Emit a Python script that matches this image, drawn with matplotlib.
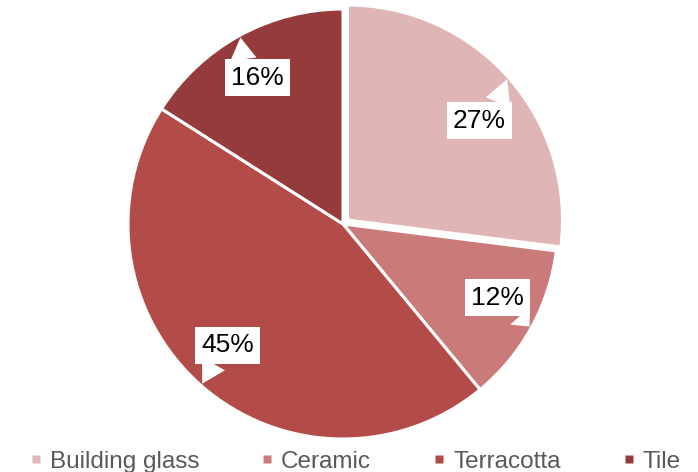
import numpy as np
import matplotlib.pyplot as plt
from matplotlib.lines import Line2D

plt.rcParams['font.family'] = ['Liberation Sans', 'DejaVu Sans']

# data
categories = ['Building glass', 'Ceramic', 'Terracotta', 'Tile']
shares = [27, 12, 45, 16]
colors = ['#DFB5B5', '#CA7B79', '#B34B48', '#963B3B']

# label layout (box centre in data units, where the tail leaves the box)
label_pos = [(0.635, 0.481), (0.719, -0.342), (-0.537, -0.565), (-0.398, 0.681)]
tail_rel = [(0.8, 1.0), (0.82, 0.0), (0.3, 0.0), (0.25, 1.0)]

fig = plt.figure(figsize=(6.98, 4.72), dpi=100)
ax = fig.add_axes([0, 0, 1, 1])

wedges, _ = ax.pie(shares, colors=colors, startangle=90, counterclock=False,
                   explode=[0.028, 0, 0, 0], radius=1.0,
                   wedgeprops=dict(edgecolor='white', linewidth=2.2))

for w, val, pos, rel in zip(wedges, shares, label_pos, tail_rel):
    ang = np.deg2rad((w.theta1 + w.theta2) / 2)
    cx, cy = w.center
    tip = (cx + 0.99 * np.cos(ang), cy + 0.99 * np.sin(ang))
    ax.annotate(f'{val}%', xy=tip, xytext=pos, ha='center', va='center',
                fontsize=19, color='black',
                bbox=dict(boxstyle='square,pad=0.24', fc='white', ec='none'),
                arrowprops=dict(arrowstyle='wedge,tail_width=1.0', fc='white',
                                ec='none', relpos=rel, shrinkA=0, shrinkB=0))

ax.set_xlim(-343 / 215, (698 - 343) / 215)
ax.set_ylim(-(472 - 224) / 215, 224 / 215)
ax.set_aspect('auto')
ax.axis('off')

handles = [Line2D([], [], marker='s', linestyle='none', markersize=6,
                  markerfacecolor=c, markeredgecolor='none') for c in colors]
fig.legend(handles, categories, loc='center', bbox_to_anchor=(0.508, 0.022),
           ncol=4, frameon=False, fontsize=17.5, labelcolor='#595959',
           handlelength=0.6, handletextpad=0.27, columnspacing=2.5,
           borderpad=0, borderaxespad=0)

fig.savefig('out.png', dpi=100)
